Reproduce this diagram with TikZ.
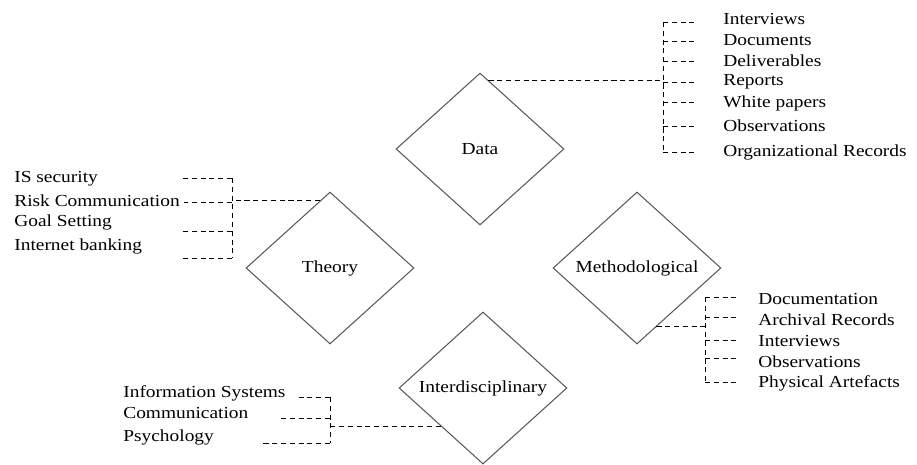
\documentclass[tikz,border=0pt]{standalone}
\usepackage{fontspec}
\setmainfont{Liberation Serif}[FakeStretch=1.15]
\usepackage{tikz}
\usetikzlibrary{shapes.geometric,calc}
\definecolor{rimgray}{HTML}{5A5A5A}

\begin{document}
\begin{tikzpicture}[
  x=0.02cm, y=-0.02cm,
  facet/.style={draw=rimgray, line width=0.6pt, shape=diamond, inner sep=0pt, minimum width=3.36cm, minimum height=3.04cm, font=\fontsize{9.6pt}{11pt}\selectfont},
  item/.style={anchor=west, inner sep=0pt, font=\fontsize{9.6pt}{11pt}\selectfont},
  link/.style={draw=black, line width=0.5pt, dash pattern=on 2.9pt off 2.1pt}
]
\useasboundingbox (0,0) rectangle (917,464);

% the four diamonds
\node[facet] (data) at (480,149) {Data};
\node[facet] (theory) at (330,268) {Theory};
\node[facet] (method) at (637,268) {Methodological};
\node[facet] (inter) at (483,388) {Interdisciplinary};

% Data
\node[item] (d1) at (723,19) {Interviews};
\node[item] (d2) at (723,40) {Documents};
\node[item] (d3) at (723,61) {Deliverables};
\node[item] (d4) at (723,82) {Reports};
\node[item] (d5) at (723,103) {White papers};
\node[item] (d6) at (723,126) {Observations};
\node[item] (d7) at (723,152) {Organizational Records};
\coordinate (dstart) at ($(data.north)!0.1!(data.east)$);
\coordinate (dbus) at (663,82);
\coordinate (ds1) at (695,22);
\coordinate (ds2) at (695,41);
\coordinate (ds3) at (695,61);
\coordinate (ds4) at (695,82);
\coordinate (ds5) at (695,102);
\coordinate (ds6) at (695,126);
\coordinate (ds7) at (695,152);
\draw[link] (dstart) -- (dstart -| dbus);
\draw[link] (ds1 -| dbus) -- (ds7 -| dbus);
\draw[link] (ds1 -| dbus) -- (ds1);
\draw[link] (ds2 -| dbus) -- (ds2);
\draw[link] (ds3 -| dbus) -- (ds3);
\draw[link] (ds4 -| dbus) -- (ds4);
\draw[link] (ds5 -| dbus) -- (ds5);
\draw[link] (ds6 -| dbus) -- (ds6);
\draw[link] (ds7 -| dbus) -- (ds7);

% Theory
\node[item] (t1) at (14,179) {IS security};
\node[item] (t2) at (14,201) {Risk Communication};
\node[item] (t3) at (14,222) {Goal Setting};
\node[item] (t4) at (14,246) {Internet banking};
\coordinate (tstart) at ($(theory.north)!0.12!(theory.west)$);
\coordinate (tbus) at (232,202);
\coordinate (ts1) at (183,178);
\coordinate (ts2) at (184,202);
\coordinate (ts3) at (183,231);
\coordinate (ts4) at (183,258);
\draw[link] (tstart) -- (tstart -| tbus);
\draw[link] (ts1 -| tbus) -- (ts4 -| tbus);
\draw[link] (ts1 -| tbus) -- (ts1);
\draw[link] (ts2 -| tbus) -- (ts2);
\draw[link] (ts3 -| tbus) -- (ts3);
\draw[link] (ts4 -| tbus) -- (ts4);

% Methodological
\node[item] (m1) at (758,299) {Documentation};
\node[item] (m2) at (758,320) {Archival Records};
\node[item] (m3) at (758,341) {Interviews};
\node[item] (m4) at (758,362) {Observations};
\node[item] (m5) at (758,383) {Physical Artefacts};
\coordinate (mstart) at ($(method.east)!0.77!(method.south)$);
\coordinate (mbus) at (705,327);
\coordinate (ms1) at (740,297);
\coordinate (ms2) at (740,317);
\coordinate (ms3) at (740,340);
\coordinate (ms4) at (740,358);
\coordinate (ms5) at (740,382);
\draw[link] (mstart) -- (mstart -| mbus);
\draw[link] (ms1 -| mbus) -- (ms5 -| mbus);
\draw[link] (ms1 -| mbus) -- (ms1);
\draw[link] (ms2 -| mbus) -- (ms2);
\draw[link] (ms3 -| mbus) -- (ms3);
\draw[link] (ms4 -| mbus) -- (ms4);
\draw[link] (ms5 -| mbus) -- (ms5);

% Interdisciplinary
\node[item] (i1) at (123,393) {Information Systems};
\node[item] (i2) at (123,413) {Communication};
\node[item] (i3) at (123,437) {Psychology};
\coordinate (istart) at ($(inter.west)!0.5!(inter.south)$);
\coordinate (ibus) at (330,427);
\coordinate (is1) at (297,397);
\coordinate (is2) at (280,418);
\coordinate (is3) at (262,443);
\draw[link] (istart) -- (istart -| ibus);
\draw[link] (is1 -| ibus) -- (is3 -| ibus);
\draw[link] (is1 -| ibus) -- (is1);
\draw[link] (is2 -| ibus) -- (is2);
\draw[link] (is3 -| ibus) -- (is3);
\end{tikzpicture}
\end{document}
